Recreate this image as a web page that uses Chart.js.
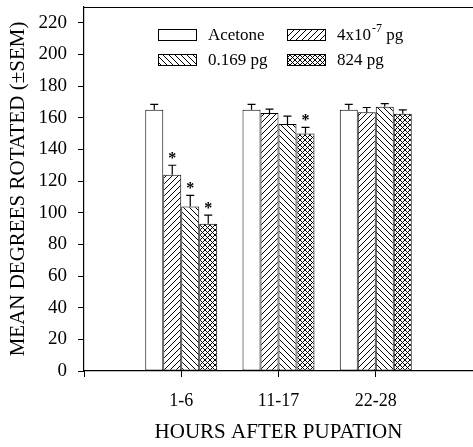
<!DOCTYPE html>
<html>
<head>
<meta charset="utf-8">
<script src="https://cdn.jsdelivr.net/npm/chart.js@4"></script>
<style>
  html, body { margin: 0; padding: 0; background: #fff; overflow: hidden; }
  canvas { display: block; }
</style>
</head>
<body>
<canvas id="barChart" width="473" height="447"></canvas>
<script>
// groups along the x axis
const categories = ['1-6', '11-17', '22-28'];
const seriesNames = ['Acetone', '4x10⁻⁷ pg', '0.169 pg', '824 pg'];
// means and SEM
const acetone = [165, 165, 165];
const low = [124, 163, 163.5];
const mid = [104, 156, 167];
const high = [93, 150, 162.5];
const acetoneSem = [3.5, 3.5, 3.5];
const lowSem = [6, 2.5, 3];
const midSem = [7, 5, 2];
const highSem = [5.5, 4, 2.5];
// asterisks (significant vs acetone)
const lowStar = [true, false, false];
const midStar = [true, false, false];
const highStar = [true, true, false];
const yTicks = [0, 20, 40, 60, 80, 100, 120, 140, 160, 180, 200, 220];

Chart.defaults.font.family = "'Liberation Serif', serif";
Chart.defaults.color = '#000';

function makePattern(kind) {
  const c = document.createElement('canvas');
  const s = kind === 'cross' ? 5 : 6;
  c.width = s; c.height = s;
  const g = c.getContext('2d');
  g.fillStyle = '#fff';
  g.fillRect(0, 0, s, s);
  g.strokeStyle = '#000';
  g.lineWidth = 1;
  g.beginPath();
  if (kind === 'fwd' || kind === 'cross') {
    g.moveTo(-1, s + 1); g.lineTo(s + 1, -1);
    g.moveTo(-1, 1); g.lineTo(1, -1);
    g.moveTo(s - 1, s + 1); g.lineTo(s + 1, s - 1);
  }
  if (kind === 'back' || kind === 'cross') {
    g.moveTo(-1, -1); g.lineTo(s + 1, s + 1);
    g.moveTo(s - 1, -1); g.lineTo(s + 1, 1);
    g.moveTo(-1, s - 1); g.lineTo(1, s + 1);
  }
  g.stroke();
  return g.createPattern(c, 'repeat');
}

const labels = [''].concat(categories, ['']);
const pad = arr => [null].concat(arr, [null]);
const fills = ['#fff', makePattern('fwd'), makePattern('back'), makePattern('cross')];
const means = [acetone, low, mid, high];
const sems = [acetoneSem, lowSem, midSem, highSem];
const stars = [[false, false, false], lowStar, midStar, highStar];

const datasets = seriesNames.map((name, i) => ({
  label: name,
  data: pad(means[i]),
  sem: pad(sems[i]),
  star: pad(stars[i]),
  backgroundColor: fills[i],
  borderColor: '#000',
  borderWidth: 1,
  borderSkipped: false,
  categoryPercentage: 0.74,
  barPercentage: 1.0
}));

const errorBars = {
  id: 'errorBars',
  afterDatasetsDraw(chart) {
    const ctx = chart.ctx;
    const y = chart.scales.y;
    ctx.save();
    ctx.strokeStyle = '#000';
    ctx.lineWidth = 1.2;
    chart.data.datasets.forEach((ds, i) => {
      const meta = chart.getDatasetMeta(i);
      ds.data.forEach((v, j) => {
        if (v === null) return;
        const bar = meta.data[j];
        const top = y.getPixelForValue(v + ds.sem[j]);
        ctx.beginPath();
        ctx.moveTo(bar.x, bar.y);
        ctx.lineTo(bar.x, top);
        ctx.moveTo(bar.x - 4, top);
        ctx.lineTo(bar.x + 4, top);
        ctx.stroke();
        if (ds.star[j]) {
          ctx.font = "bold 16px 'Liberation Serif'";
          ctx.fillStyle = '#000';
          ctx.textAlign = 'center';
          ctx.textBaseline = 'alphabetic';
          ctx.fillText('*', bar.x, top - 2);
        }
      });
    });
    ctx.restore();
  }
};

const frame = {
  id: 'frame',
  afterDraw(chart) {
    const a = chart.chartArea;
    const ctx = chart.ctx;
    ctx.save();
    ctx.strokeStyle = '#000';
    ctx.lineWidth = 1;
    ctx.beginPath();
    ctx.moveTo(a.left, a.top + 0.5);
    ctx.lineTo(a.right, a.top + 0.5);
    ctx.stroke();
    ctx.restore();
  }
};

// two-column legend inside the plot
const boxLegend = {
  id: 'boxLegend',
  afterDraw(chart) {
    const ctx = chart.ctx;
    const a = chart.chartArea;
    const cols = [a.left + 74, a.left + 203];
    const rows = [a.top + 22, a.top + 47];
    ctx.save();
    chart.data.datasets.forEach((ds, i) => {
      const bx = cols[i % 2], by = rows[Math.floor(i / 2)];
      ctx.fillStyle = ds.backgroundColor;
      ctx.fillRect(bx, by, 39, 12);
      ctx.strokeStyle = '#000';
      ctx.lineWidth = 1;
      ctx.strokeRect(bx + 0.5, by + 0.5, 38, 11);
      ctx.fillStyle = '#000';
      ctx.textBaseline = 'middle';
      ctx.textAlign = 'left';
      ctx.font = "17px 'Liberation Serif'";
      const tx = bx + 50, ty = by + 7;
      const m = ds.label.match(/^(.*?)([⁻⁰¹²³⁴⁵⁶⁷⁸⁹]+)(.*)$/);
      if (m) {
        const sup = m[2].replace('⁻', '-').replace(/[⁰¹²³⁴⁵⁶⁷⁸⁹]/g,
          c => '⁰¹²³⁴⁵⁶⁷⁸⁹'.indexOf(c));
        ctx.fillText(m[1], tx, ty);
        let x = tx + ctx.measureText(m[1]).width + 1;
        ctx.font = "12px 'Liberation Serif'";
        ctx.fillText(sup, x, ty - 7);
        x += ctx.measureText(sup).width;
        ctx.font = "17px 'Liberation Serif'";
        ctx.fillText(m[3], x, ty);
      } else {
        ctx.fillText(ds.label, tx, ty);
      }
    });
    ctx.restore();
  }
};

function noPad(scale) {
  scale.paddingTop = 0;
  scale.paddingBottom = 0;
  scale.paddingLeft = 0;
  scale.paddingRight = 0;
}

new Chart(document.getElementById('barChart'), {
  type: 'bar',
  data: { labels: labels, datasets: datasets },
  plugins: [errorBars, frame, boxLegend],
  options: {
    responsive: false,
    devicePixelRatio: 1,
    animation: false,
    layout: { autoPadding: false, padding: { top: 7, right: 0, bottom: 0, left: 0 } },
    plugins: {
      legend: { display: false },
      tooltip: { enabled: false }
    },
    scales: {
      x: {
        offset: false,
        grid: { display: true, offset: false, drawOnChartArea: false, tickLength: 6, color: '#000' },
        border: { color: '#000', width: 1.2 },
        ticks: { font: { size: 18 }, padding: 13, maxRotation: 0, autoSkip: false },
        title: {
          display: true,
          text: 'HOURS AFTER PUPATION',
          font: { size: 21 },
          padding: { top: 0, bottom: 2 }
        },
        afterFit(scale) { scale.height = 76; noPad(scale); }
      },
      y: {
        min: 0,
        max: 230,
        grid: { display: true, drawOnChartArea: false, tickLength: 6, color: '#000' },
        border: { color: '#000', width: 1.2 },
        ticks: { stepSize: 20, font: { size: 19 }, padding: 11 },
        afterBuildTicks(scale) {
          scale.ticks = yTicks.map(v => ({ value: v }));
        },
        title: {
          display: true,
          text: 'MEAN DEGREES ROTATED (±SEM)',
          font: { size: 21 },
          padding: { top: 6, bottom: 0 }
        },
        afterFit(scale) { scale.width = 84; noPad(scale); }
      }
    }
  }
});
</script>
</body>
</html>
